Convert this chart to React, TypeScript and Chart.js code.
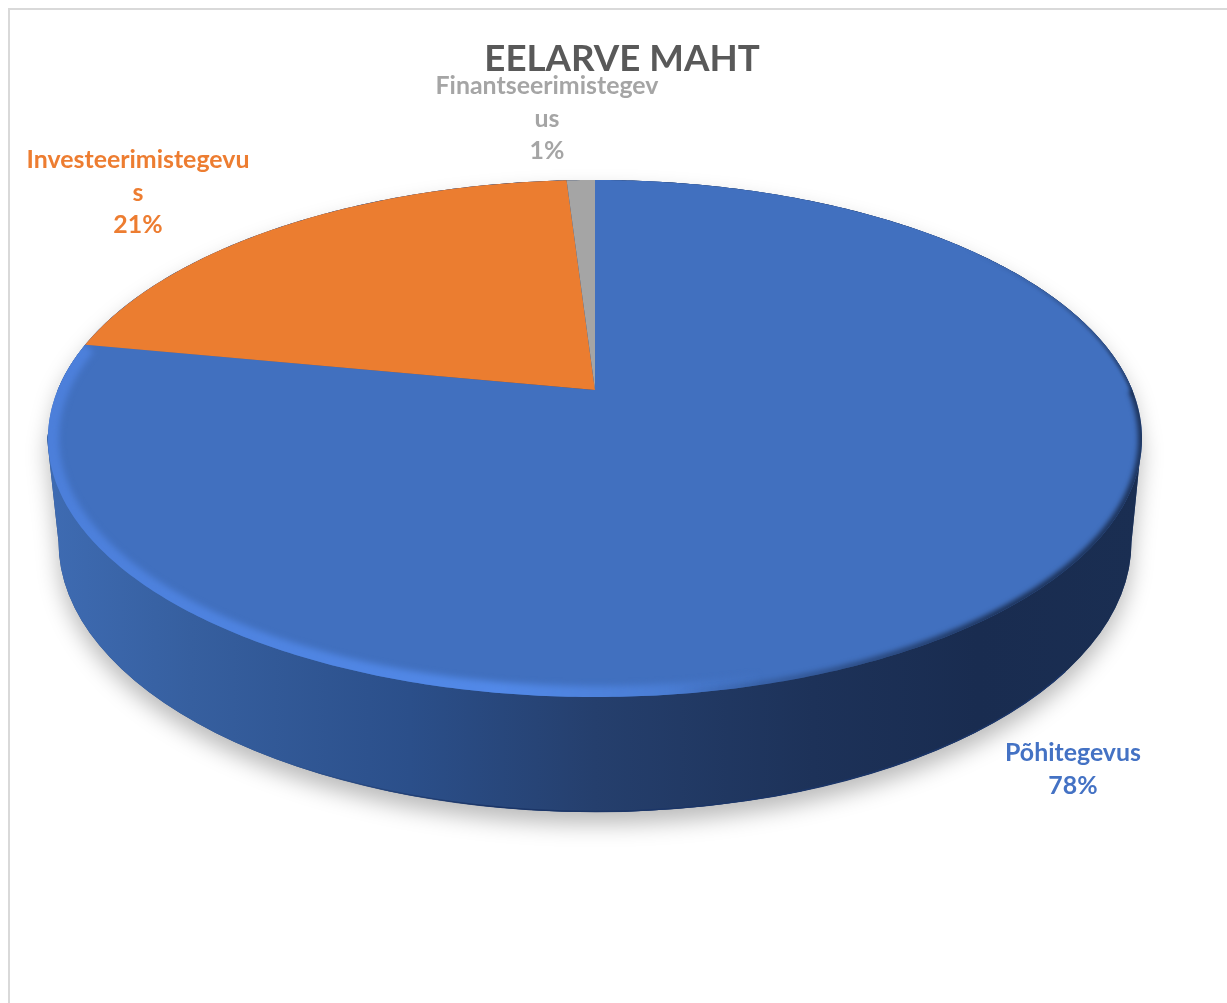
import React, { useEffect, useRef } from "react";
import { Chart, registerables } from "chart.js";

Chart.register(...registerables);

const categories = ["Põhitegevus", "Investeerimistegevus", "Finantseerimistegevus"];
const values = [78, 21, 1];
const labelLines = [["Põhitegevus"], ["Investeerimistegevu", "s"], ["Finantseerimistegev", "us"]];
const sliceColors = ["#4170BF", "#EB7D30", "#A5A5A5"];
const labelColors = ["#4472C4", "#ED7D31", "#A5A5A5"];
const chartTitle = "EELARVE MAHT";

const FONT = "Lato, Carlito, sans-serif";
const OFFSET = 8;
const APEX = { x: 595, y: 390 };
const K = -0.1876;
const A = 537.3;
const B = 249.4;
const LABEL_POS = [
  { x: 1073, y: 753 },
  { x: 138, y: 160 },
  { x: 547, y: 86 },
];

const project = (angle: number) => {
  const u = Math.cos(angle);
  const v = Math.sin(angle);
  const w = 1 + K * v;
  return { x: APEX.x + (A * u) / w, y: APEX.y + (B * v) / w };
};

const traceArc = (ctx: CanvasRenderingContext2D, a0: number, a1: number, move: boolean) => {
  const steps = Math.max(4, Math.ceil(Math.abs(a1 - a0) * 90));
  for (let i = 0; i <= steps; i++) {
    const p = project(a0 + ((a1 - a0) * i) / steps);
    if (i === 0 && move) ctx.moveTo(p.x, p.y);
    else ctx.lineTo(p.x, p.y);
  }
};

const traceWall = (ctx: CanvasRenderingContext2D) => {
  const cx = 595;
  const cy = 542;
  const rx = 536.5;
  const ry = 270;
  ctx.beginPath();
  ctx.moveTo(1142, 438);
  ctx.lineTo(cx + rx, cy);
  ctx.ellipse(cx, cy, rx, ry, 0, 0, Math.PI);
  ctx.lineTo(47, 438);
  traceArc(ctx, Math.PI, Math.PI * 2, false);
  ctx.closePath();
};

const pie3d = {
  id: "pie3d",
  beforeDatasetDraw(chart: any) {
    const ctx: CanvasRenderingContext2D = chart.ctx;
    const arcs = chart.getDatasetMeta(0).data;
    ctx.save();
    ctx.translate(-OFFSET, -OFFSET);

    // soft ground shadow and side wall
    ctx.save();
    ctx.shadowColor = "rgba(0,0,0,0.27)";
    ctx.shadowBlur = 22;
    ctx.shadowOffsetY = 12;
    ctx.fillStyle = "#2a4a80";
    traceWall(ctx);
    ctx.fill();
    ctx.restore();

    const wall = ctx.createLinearGradient(50, 0, 1140, 0);
    wall.addColorStop(0, "#3E6BB2");
    wall.addColorStop(0.13, "#365F9F");
    wall.addColorStop(0.33, "#2B4F8A");
    wall.addColorStop(0.5, "#253F6D");
    wall.addColorStop(0.7, "#1D3259");
    wall.addColorStop(0.85, "#192C50");
    wall.addColorStop(1, "#1A2E52");
    ctx.fillStyle = wall;
    traceWall(ctx);
    ctx.fill();

    // darker line along the foot of the wall
    const foot = ctx.createLinearGradient(280, 0, 500, 0);
    foot.addColorStop(0, "rgba(27,53,103,0)");
    foot.addColorStop(1, "rgba(27,53,103,1)");
    ctx.beginPath();
    ctx.ellipse(595, 542, 536, 269.5, 0, 0.5, Math.PI - 0.9);
    ctx.strokeStyle = foot;
    ctx.lineWidth = 1.5;
    ctx.stroke();

    // top faces
    arcs.forEach((arc: any, i: number) => {
      ctx.beginPath();
      ctx.moveTo(APEX.x, APEX.y);
      traceArc(ctx, arc.startAngle, arc.endAngle, false);
      ctx.closePath();
      ctx.fillStyle = sliceColors[i];
      ctx.fill();
    });

    // bevel on the first slice
    const first = arcs[0];
    ctx.save();
    ctx.beginPath();
    ctx.moveTo(APEX.x, APEX.y);
    traceArc(ctx, first.startAngle, first.endAngle, false);
    ctx.closePath();
    ctx.clip();

    const bright = ctx.createLinearGradient(48, 0, 800, 0);
    bright.addColorStop(0, "#4C7FDA");
    bright.addColorStop(0.6, "#5289E8");
    bright.addColorStop(0.82, "#4A7DD4");
    bright.addColorStop(1, "rgba(65,112,191,0)");
    ctx.filter = "blur(3px)";
    ctx.beginPath();
    traceArc(ctx, Math.PI * 0.42, first.endAngle, true);
    ctx.strokeStyle = bright;
    ctx.lineWidth = 22;
    ctx.stroke();

    const upper = ctx.createLinearGradient(0, 250, 0, 420);
    upper.addColorStop(0, "rgba(26,46,82,0)");
    upper.addColorStop(1, "rgba(26,46,82,0.9)");
    ctx.filter = "blur(1.5px)";
    ctx.beginPath();
    traceArc(ctx, -Math.PI * 0.3, 0.02, true);
    ctx.strokeStyle = upper;
    ctx.lineWidth = 5;
    ctx.stroke();

    const dark = ctx.createLinearGradient(680, 0, 1000, 0);
    dark.addColorStop(0, "rgba(26,46,82,0)");
    dark.addColorStop(1, "rgba(26,46,82,0.95)");
    ctx.filter = "blur(2.5px)";
    ctx.beginPath();
    traceArc(ctx, 0, Math.PI * 0.46, true);
    ctx.strokeStyle = dark;
    ctx.lineWidth = 8;
    ctx.stroke();
    ctx.filter = "none";
    ctx.restore();

    ctx.restore();
    return false;
  },
  afterDatasetsDraw(chart: any) {
    const ctx: CanvasRenderingContext2D = chart.ctx;
    const total = values.reduce((s, v) => s + v, 0);
    ctx.save();
    ctx.translate(-OFFSET, -OFFSET);
    ctx.font = `bold 24.9px ${FONT}`;
    ctx.textAlign = "center";
    ctx.textBaseline = "alphabetic";
    categories.forEach((_, i) => {
      const lines = [...labelLines[i], `${Math.round((values[i] / total) * 100)}%`];
      ctx.fillStyle = labelColors[i];
      lines.forEach((line, j) => {
        ctx.fillText(line, LABEL_POS[i].x, LABEL_POS[i].y + 8 + j * 32.5);
      });
    });
    ctx.restore();
  },
};

export default function App() {
  const ref = useRef<HTMLCanvasElement | null>(null);
  useEffect(() => {
    const chart = new Chart(ref.current as HTMLCanvasElement, {
      type: "pie",
      data: {
        labels: categories,
        datasets: [{ data: values, backgroundColor: sliceColors, borderWidth: 0 }],
      },
      options: {
        responsive: false,
        animation: false,
        events: [],
        plugins: {
          legend: { display: false },
          tooltip: { enabled: false },
          title: {
            display: true,
            text: chartTitle,
            color: "#595959",
            font: { family: FONT, size: 36.7, weight: "bold" },
            padding: { top: 29, bottom: 10 },
          },
        },
      },
      plugins: [pie3d],
    } as any);
    return () => chart.destroy();
  }, []);
  return (
    <div style={{ position: "fixed", inset: 0, overflow: "hidden", background: "#fff" }}>
      <div
        style={{
          position: "absolute",
          left: 8,
          top: 8,
          right: -10,
          bottom: -10,
          borderLeft: "2px solid #D9D9D9",
          borderTop: "2px solid #D9D9D9",
        }}
      />
      <canvas
        ref={ref}
        width={1228}
        height={1003}
        style={{ position: "absolute", left: OFFSET, top: OFFSET, width: 1228, height: 1003 }}
      />
    </div>
  );
}
